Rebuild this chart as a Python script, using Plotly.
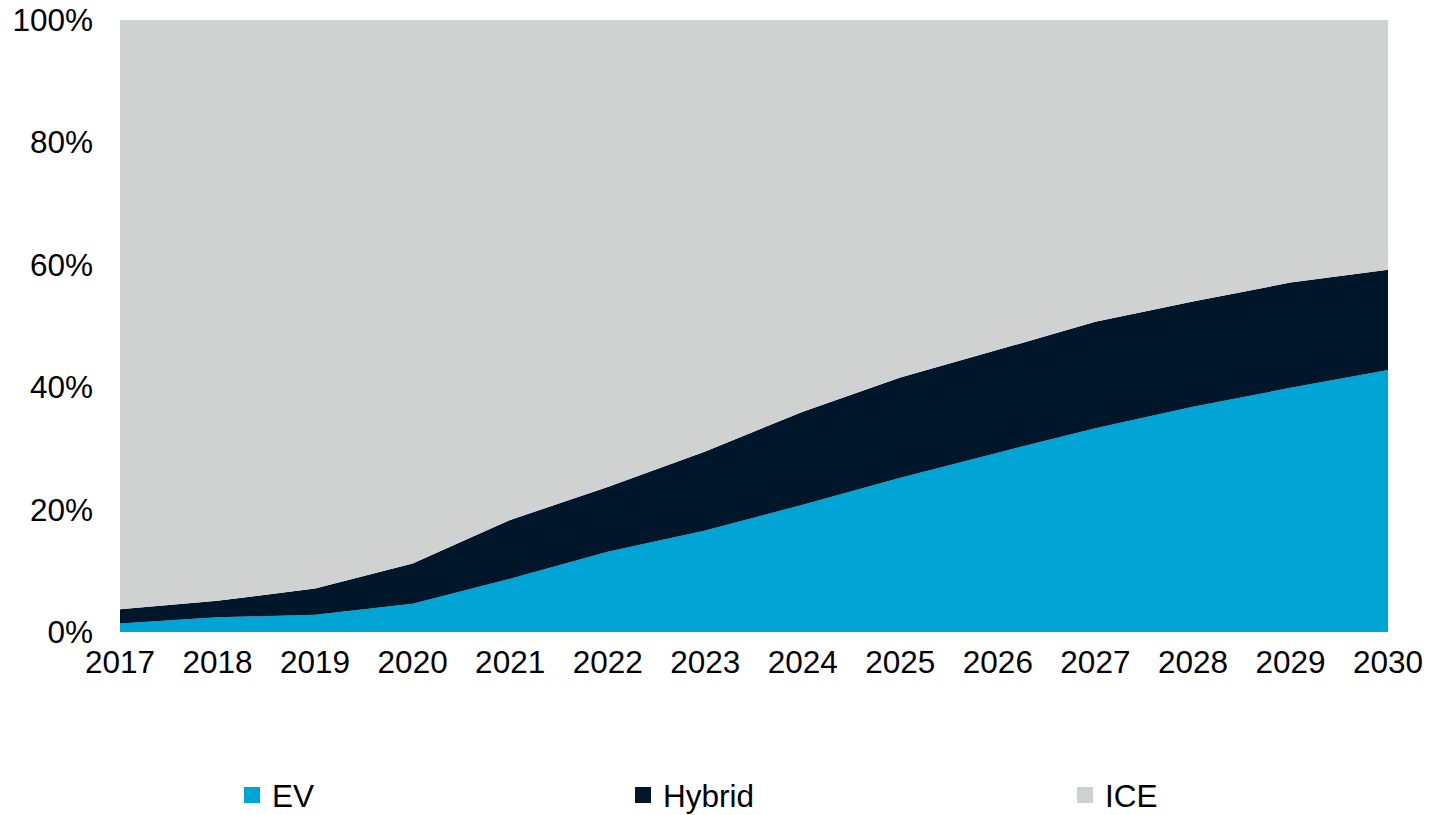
import plotly.graph_objects as go

years = list(range(2017, 2031))
ev = [1.4, 2.4, 2.8, 4.6, 8.7, 13.1, 16.6, 20.8, 25.2, 29.3, 33.3, 36.8, 39.9, 42.8]
hybrid = [2.3, 2.7, 4.3, 6.6, 9.6, 10.6, 12.9, 15.2, 16.4, 16.8, 17.4, 17.2, 17.2, 16.4]
ice = [round(100 - e - h, 1) for e, h in zip(ev, hybrid)]

series = [
    ("EV", ev, "#00A4D5"),
    ("Hybrid", hybrid, "#00172B"),
    ("ICE", ice, "#D0D2D1"),
]
legend_slots = ["legend", "legend2", "legend3"]

fig = go.Figure()
for (name, vals, color), slot in zip(series, legend_slots):
    fig.add_trace(go.Scatter(
        x=years, y=vals, name=name, mode="none",
        stackgroup="share", fillcolor=color,
        showlegend=False, hoverinfo="skip",
    ))
    # square swatch for the legend entry
    fig.add_trace(go.Scatter(
        x=[None], y=[None], name=name, mode="markers",
        marker=dict(symbol="square", size=16, color=color),
        legend=slot, showlegend=True,
    ))

font = dict(family="Liberation Sans, Arial, sans-serif", size=31.5, color="#000000")
leg_common = dict(orientation="h", yanchor="middle", y=-(795 - 632) / 612, xanchor="left",
                  font=font, bgcolor="rgba(0,0,0,0)", itemsizing="trace")

fig.update_layout(
    width=1450, height=815,
    margin=dict(l=120, r=62, t=20, b=183, autoexpand=False),
    paper_bgcolor="white", plot_bgcolor="white",
    font=font,
    legend=dict(x=(232 - 120) / 1268, **leg_common),
    legend2=dict(x=(623 - 120) / 1268, **leg_common),
    legend3=dict(x=(1065 - 120) / 1268, **leg_common),
    xaxis=dict(range=[2017, 2030], tickvals=years, ticktext=[str(y) for y in years],
               showgrid=False, zeroline=False, showline=False, ticks="",
               ticklabelstandoff=8, tickfont=font, automargin=False),
    yaxis=dict(range=[0, 100], tickvals=[0, 20, 40, 60, 80, 100],
               ticktext=["0%", "20%", "40%", "60%", "80%", "100%"],
               showgrid=False, zeroline=False, showline=False, ticks="",
               ticklabelstandoff=26, tickfont=font, automargin=False),
)

fig.write_html("out.html")
